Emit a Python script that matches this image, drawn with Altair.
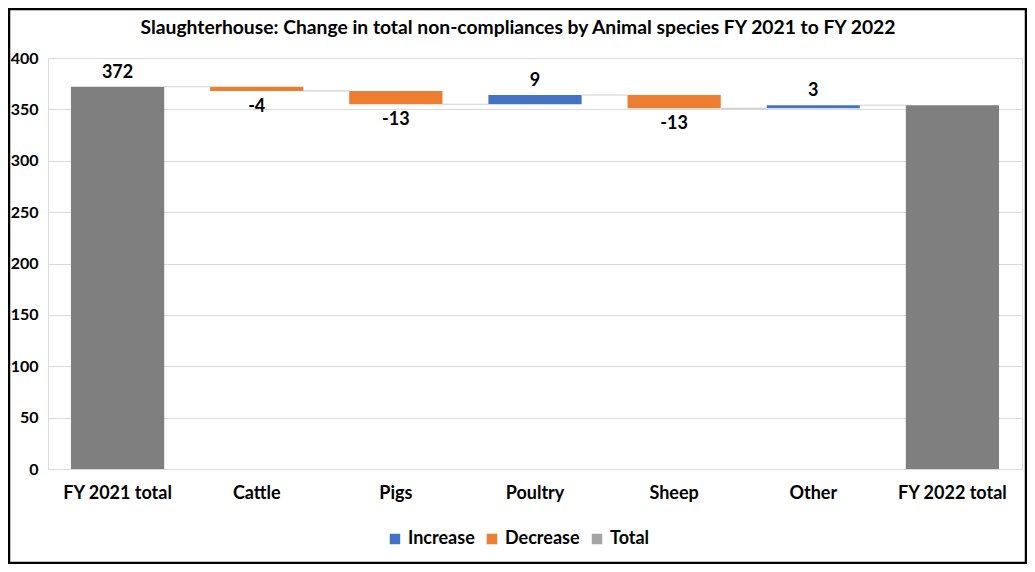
import altair as alt
import pandas as pd

categories = ["FY 2021 total", "Cattle", "Pigs", "Poultry", "Sheep", "Other", "FY 2022 total"]
values = [372, -4, -13, 9, -13, 3, 354]
kinds = ["Total", "Decrease", "Decrease", "Increase", "Decrease", "Increase", "Total"]
labels = ["372", "-4", "-13", "9", "-13", "3", ""]

rows = []
running = 0
for c, v, k, l in zip(categories, values, kinds, labels):
    if k == "Total":
        start, end = 0, v
    else:
        start, end = running, running + v
    running = end
    rows.append({"cat": c, "start": start, "end": end, "kind": k, "label": l,
                 "top": max(start, end), "bottom": min(start, end)})
df = pd.DataFrame(rows)

conn = pd.DataFrame([{"cat": categories[i], "next": categories[i + 1], "level": rows[i]["end"]}
                     for i in range(len(categories) - 1)])

FONT = "Lato"
xscale = alt.Scale(paddingInner=0.33, paddingOuter=0.165)
X = alt.X("cat:N", sort=categories, scale=xscale,
          axis=alt.Axis(title=None, labelAngle=0, labelFontSize=18, labelFontWeight="bold",
                        labelColor="#000000", labelPadding=15, ticks=False,
                        domainColor="#d9d9d9", labelFont=FONT))
Y = alt.Y("start:Q", scale=alt.Scale(domain=[0, 400]),
          axis=alt.Axis(title=None, values=[0, 50, 100, 150, 200, 250, 300, 350, 400],
                        labelFontSize=16, labelFontWeight="bold", labelColor="#000000",
                        labelPadding=10, ticks=False, domain=False, gridColor="#d9d9d9",
                        labelFont=FONT))

frame = alt.Chart(pd.DataFrame({"a": [0]})).mark_rect(
    fill=None, stroke="#000000", strokeWidth=2.5
).encode(x=alt.value(-39), x2=alt.value(978), y=alt.value(-49), y2=alt.value(505))

totals = alt.Chart(df).transform_filter(alt.datum.kind == "Total").mark_bar(color="#7F7F7F").encode(
    x=X, y=Y, y2="end:Q")

changes = alt.Chart(df).transform_filter(alt.datum.kind != "Total").mark_bar().encode(
    x=X, y=Y, y2="end:Q",
    color=alt.Color("kind:N",
                    scale=alt.Scale(domain=["Increase", "Decrease", "Total"],
                                    range=["#4472C4", "#ED7D31", "#A5A5A5"]),
                    legend=alt.Legend(title=None, orient="none", direction="horizontal",
                                      legendX=338, legendY=472, labelFontSize=18,
                                      labelFontWeight="bold", labelColor="#000000",
                                      labelFont=FONT, symbolType="square", symbolSize=110,
                                      symbolStrokeWidth=0, columnPadding=8)))

connectors = alt.Chart(conn).mark_rule(color="#d0d0d0", strokeWidth=1.2).encode(
    x=alt.X("cat:N", sort=categories, scale=xscale, bandPosition=1),
    x2=alt.X2("next:N", bandPosition=0),
    y=alt.Y("level:Q"))

above = alt.Chart(df).transform_filter(alt.datum.kind != "Decrease").mark_text(
    dy=-14, fontSize=18, fontWeight="bold", font=FONT, color="#000000").encode(
    x=alt.X("cat:N", sort=categories, scale=xscale), y=alt.Y("top:Q"), text="label:N")

below = alt.Chart(df).transform_filter(alt.datum.kind == "Decrease").mark_text(
    dy=16, fontSize=18, fontWeight="bold", font=FONT, color="#000000").encode(
    x=alt.X("cat:N", sort=categories, scale=xscale), y=alt.Y("bottom:Q"), text="label:N")

chart = alt.layer(frame, totals, changes, connectors, above, below).properties(
    width=974, height=411,
    title=alt.Title("Slaughterhouse: Change in total non-compliances by Animal species FY 2021 to FY 2022",
                    fontSize=19.3, fontWeight="bold", font=FONT, color="#000000", offset=-31,
                    anchor="middle", dx=-17),
    autosize=alt.AutoSizeParams(type="none"),
    padding={"left": 40, "top": 50, "right": 5, "bottom": 95},
).configure_view(stroke=None).configure(background="#ffffff")

chart.save("out.html", embed_options={"renderer": "svg", "actions": False})
